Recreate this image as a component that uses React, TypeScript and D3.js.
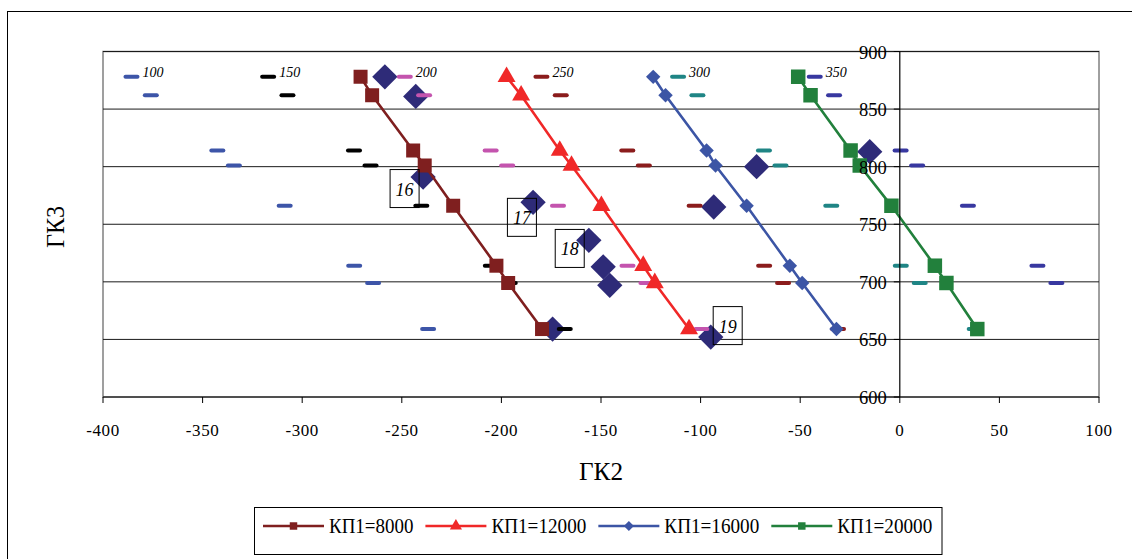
import * as d3 from 'd3'
import React from 'react'

const W = 1132
const H = 559

// ГК3 levels shared by every series (y values)
const GK3 = [878, 862, 814, 801, 766, 714, 699, 659]

// connected series, ГК2 values (x)
const SERIES_NAMES = ['КП1=8000', 'КП1=12000', 'КП1=16000', 'КП1=20000']
const KP_8000 = [-270.7, -264.9, -244.3, -238.5, -224.2, -202.5, -196.6, -179.6]
const KP_12000 = [-197.4, -190.1, -170.7, -164.8, -149.8, -128.8, -123.0, -105.8]
const KP_16000 = [-123.8, -117.6, -97.0, -92.5, -76.9, -55.2, -49.0, -31.8]
const KP_20000 = [-51.0, -44.8, -24.7, -20.1, -4.2, 17.6, 23.4, 38.9]

// short dash markers, labelled groups
const LEVEL_LABELS = ['100', '150', '200', '250', '300', '350']
const LEVEL_100 = [-385.7, -376.0, -342.6, -334.3, -308.8, -273.9, -264.4, -236.8]
const LEVEL_150 = [-317.1, -307.4, -274.0, -265.7, -240.2, -205.3, -195.8, -168.2]
const LEVEL_200 = [-248.5, -238.8, -205.4, -197.1, -171.6, -136.7, -127.2, -99.6]
const LEVEL_250 = [-179.9, -170.2, -136.8, -128.5, -103.0, -68.1, -58.6, -31.0]
const LEVEL_300 = [-111.3, -101.6, -68.2, -59.9, -34.4, 0.5, 10.0, 37.6]
const LEVEL_350 = [-42.7, -33.0, 0.4, 8.7, 34.2, 69.1, 78.6, 106.2]

// big unconnected diamonds
const POINT_GK2 = [-258.5, -243.0, -239.3, -184.1, -156.1, -148.9, -145.6, -174.3, -71.9, -93.4, -15.1, -94.9]
const POINT_GK3 = [878, 861, 791, 769, 736, 713, 697, 659, 800, 765, 813, 652]

// numbered text boxes
const BOX_LABELS = ['16', '17', '18', '19']
const BOX_GK2 = [-248.6, -189.7, -165.7, -86.4]
const BOX_GK3 = [781, 756, 729, 662]

const X_TICKS = [-400, -350, -300, -250, -200, -150, -100, -50, 0, 50, 100]
const Y_TICKS = [600, 650, 700, 750, 800, 850, 900]

const SERIF = 'Liberation Serif, Times New Roman, serif'

const seriesStyle = [
  { color: '#7f1f1f', symbol: d3.symbolSquare, size: 196, rotate: 0, legendSize: 56 },
  { color: '#f02828', symbol: d3.symbolTriangle, size: 140, rotate: 0, legendSize: 64 },
  { color: '#3c55a5', symbol: d3.symbolSquare, size: 104, rotate: 45, legendSize: 50 },
  { color: '#22803c', symbol: d3.symbolSquare, size: 210, rotate: 0, legendSize: 56 },
]
const levelColors = ['#3d55a8', '#000000', '#c454ae', '#8b1c1c', '#1f8585', '#3838a0']

export default function App() {
  const series = [KP_8000, KP_12000, KP_16000, KP_20000]
  const levels = [LEVEL_100, LEVEL_150, LEVEL_200, LEVEL_250, LEVEL_300, LEVEL_350]

  const x = d3.scaleLinear().domain([-400, 100]).range([103, 1099])
  const y = d3.scaleLinear().domain([600, 900]).range([397, 51.5])
  const [x0, x1] = x.range()
  const [yb, yt] = y.range()

  const line = d3
    .line<number>()
    .x(d => x(d))
    .y((d, i) => y(GK3[i]))

  const symbolPath = (type, size) => d3.symbol(type, size)() as string
  const bigDiamond = symbolPath(d3.symbolSquare, 320)

  // legend layout
  const legendY = 526
  let cursor = 263
  const legendItems = SERIES_NAMES.map((name, i) => {
    const textWidth = name.length * 10.55
    const item = { name, i, lineStart: cursor, textStart: cursor + 66, textWidth }
    cursor = cursor + 66 + textWidth + 12
    return item
  })

  return (
    <svg
      width={W}
      height={H}
      style={{ position: 'absolute', left: 0, top: 0, background: '#fff', fontFamily: SERIF }}
    >
      <rect x={0} y={0} width={W} height={H} fill="#fff" />
      {/* outer chart border (runs off the picture on the right and bottom) */}
      <rect x={7.5} y={11.5} width={1200} height={600} fill="none" stroke="#000" strokeWidth={1} />

      <defs>
        <clipPath id="plot-clip">
          <rect x={x0} y={yt - 2} width={x1 - x0} height={yb - yt + 4} />
        </clipPath>
      </defs>

      {/* plot area border */}
      <rect x={x0} y={yt} width={x1 - x0} height={yb - yt} fill="none" stroke="#808080" strokeWidth={1.5} />

      {/* horizontal gridlines */}
      {Y_TICKS.filter(t => t > 600).map(t => (
        <line key={t} x1={x0} x2={x1} y1={y(t)} y2={y(t)} stroke="#1a1a1a" strokeWidth={1} />
      ))}

      {/* x axis */}
      <line x1={x0} x2={x1} y1={yb} y2={yb} stroke="#000" strokeWidth={1.2} />
      {X_TICKS.map(t => (
        <g key={t}>
          <line x1={x(t)} x2={x(t)} y1={yb} y2={yb + 6} stroke="#000" strokeWidth={1} />
          <text x={x(t)} y={yb + 39} textAnchor="middle" fontSize={17} letterSpacing={0.6} fill="#000">
            {t}
          </text>
        </g>
      ))}

      <g clipPath="url(#plot-clip)">
        {/* big diamonds */}
        {POINT_GK2.map((v, i) => (
          <path
            key={i}
            d={bigDiamond}
            transform={`translate(${x(v)},${y(POINT_GK3[i])}) rotate(45)`}
            fill="#2e2b78"
          />
        ))}

        {/* dash groups */}
        {levels.map((vals, li) => (
          <g key={li}>
            {vals.map((v, i) => (
              <rect
                key={i}
                x={x(v) - 8}
                y={y(GK3[i]) - 2}
                width={16}
                height={4}
                rx={2}
                fill={levelColors[li]}
              />
            ))}
          </g>
        ))}

        {/* connected series */}
        {series.map((vals, si) => {
          const st = seriesStyle[si]
          const p = symbolPath(st.symbol, st.size)
          return (
            <g key={si}>
              <path d={line(vals) as string} fill="none" stroke={st.color} strokeWidth={2.6} />
              {vals.map((v, i) => (
                <path
                  key={i}
                  d={p}
                  transform={`translate(${x(v)},${y(GK3[i])}) rotate(${st.rotate})`}
                  fill={st.color}
                />
              ))}
            </g>
          )
        })}
      </g>

      {/* level labels */}
      {levels.map((vals, li) => (
        <text
          key={li}
          x={x(vals[0]) + 11}
          y={y(GK3[0]) - 4}
          dominantBaseline="central"
          fontSize={14}
          fontStyle="italic"
          fill="#000"
        >
          {LEVEL_LABELS[li]}
        </text>
      ))}

      {/* y axis at ГК2 = 0 */}
      <line x1={x(0)} x2={x(0)} y1={yt} y2={yb} stroke="#000" strokeWidth={1.2} />
      {Y_TICKS.map(t => (
        <g key={t}>
          <line x1={x(0) - 6} x2={x(0)} y1={y(t)} y2={y(t)} stroke="#000" strokeWidth={1} />
          <text
            x={x(0) - 13}
            y={y(t) + 1}
            textAnchor="end"
            dominantBaseline="central"
            fontSize={18.5}
            fill="#000"
          >
            {t}
          </text>
        </g>
      ))}

      {/* numbered boxes */}
      {BOX_LABELS.map((label, i) => (
        <g key={label} transform={`translate(${x(BOX_GK2[i])},${y(BOX_GK3[i])})`}>
          <rect x={-14.5} y={-19} width={29} height={38} fill="none" stroke="#000" strokeWidth={1} />
          <text x={0} y={1} textAnchor="middle" dominantBaseline="central" fontSize={18} fontStyle="italic" fill="#000">
            {label}
          </text>
        </g>
      ))}

      {/* axis titles */}
      <text x={601} y={480} textAnchor="middle" fontSize={26} textLength={44} lengthAdjust="spacingAndGlyphs">
        ГК2
      </text>
      <text
        transform="translate(64,227) rotate(-90)"
        textAnchor="middle"
        fontSize={26}
        textLength={42}
        lengthAdjust="spacingAndGlyphs"
      >
        ГК3
      </text>

      {/* legend */}
      <rect x={254.5} y={507.5} width={687.5} height={47} fill="#fff" stroke="#000" strokeWidth={1} />
      {legendItems.map(item => {
        const st = seriesStyle[item.i]
        const mx = item.lineStart + 30.5
        return (
          <g key={item.name}>
            <line
              x1={item.lineStart}
              x2={item.lineStart + 61}
              y1={legendY}
              y2={legendY}
              stroke={st.color}
              strokeWidth={2.6}
            />
            <path
              d={symbolPath(st.symbol, st.legendSize)}
              transform={`translate(${mx},${legendY}) rotate(${st.rotate})`}
              fill={st.color}
            />
            <text
              x={item.textStart}
              y={legendY + 7}
              fontSize={20}
              textLength={item.textWidth}
              lengthAdjust="spacingAndGlyphs"
              fill="#000"
            >
              {item.name}
            </text>
          </g>
        )
      })}
    </svg>
  )
}
